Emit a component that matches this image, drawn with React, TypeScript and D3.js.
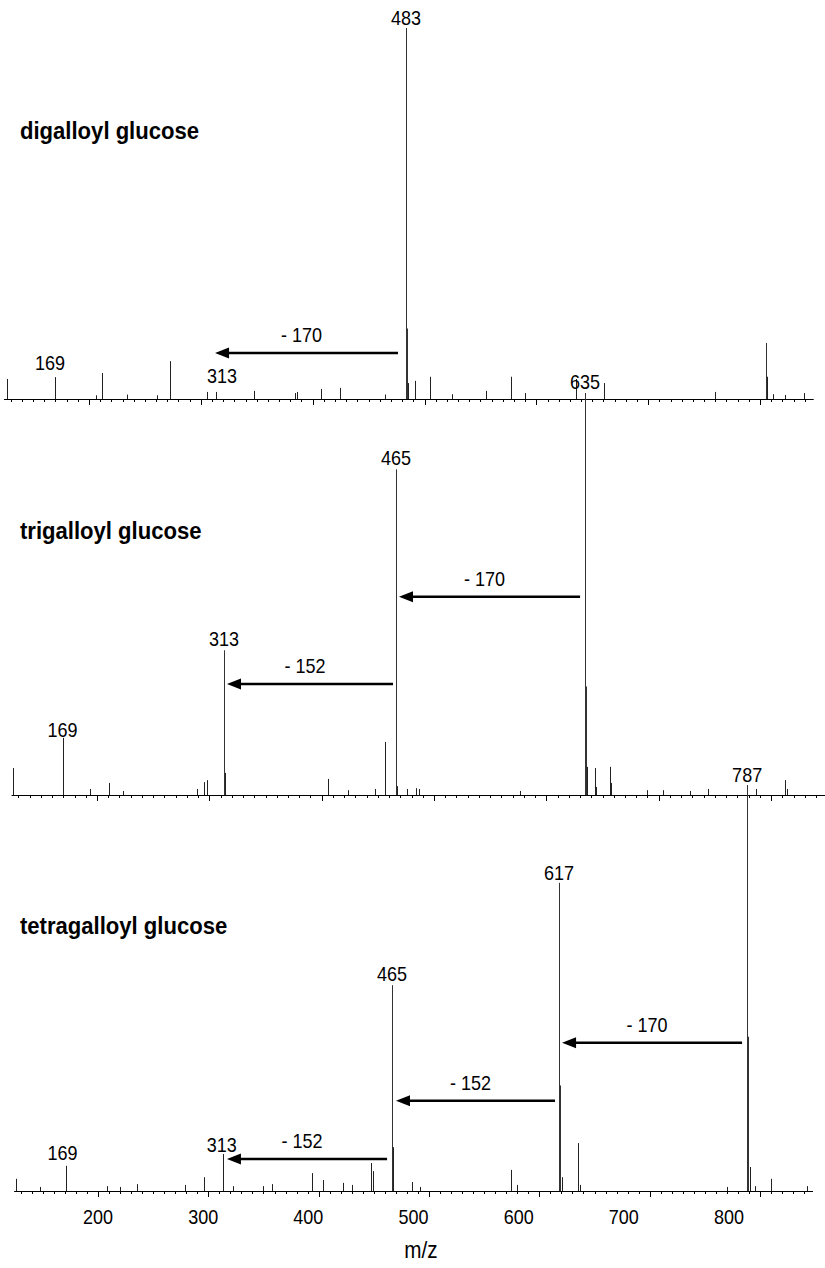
import React from "react";
import * as d3 from "d3";

// ---------- data ----------
const mzDomain = [124, 848];
const majorTicks = [200, 300, 400, 500, 600, 700, 800];
const tickLabels = ["200", "300", "400", "500", "600", "700", "800"];
const xAxisTitle = "m/z";

const diMz = [126.7, 169.6, 206.3, 211.6, 234, 260.8, 272.4, 305.5, 313.6, 347.5, 384.2, 386, 407.5, 424.4, 464.7, 483.5, 484.4, 485.3, 491.5, 504.9, 524.6, 555, 577.4, 589.9, 635.5, 660.5, 759.8, 805.4, 806.3, 811.6, 822.4, 839.4];
const diInt = [5.4, 5.9, 1.0, 7.0, 1.2, 1.0, 10.2, 1.9, 1.9, 2.2, 1.6, 1.9, 2.7, 3.0, 1.2, 100, 19, 4.3, 4.9, 6.0, 1.3, 2.2, 6.0, 1.6, 5.4, 4.3, 1.9, 15.1, 6.0, 1.3, 1.1, 1.6];

const triMz = [125.2, 169.7, 193.8, 210.7, 223.1, 289, 295.3, 297.9, 313.1, 313.9, 406, 423.4, 447.5, 456.4, 466.2, 467.1, 476, 484, 486.6, 576.6, 634.4, 635.3, 636.2, 643.3, 644.2, 656.7, 657.6, 689.6, 703.8, 727.9, 743.9, 786.6, 812.5, 814.2];
const triInt = [6.7, 14.2, 1.5, 3.0, 1.0, 1.5, 3.2, 3.7, 36, 5.5, 4.0, 1.2, 1.5, 13.2, 81, 2.2, 1.5, 1.7, 1.5, 1.0, 100, 27, 7, 6.7, 2, 7, 3, 1.2, 1.2, 1.0, 1.5, 1.5, 3.7, 1.5];

const tetraMz = [125.7, 147.4, 171, 208.2, 219.9, 235.3, 278.9, 296.1, 313.3, 322.4, 349.6, 357.7, 394, 404, 422.1, 430.2, 447.4, 449.3, 466.5, 467.4, 484.6, 491.9, 574.3, 579.8, 617.8, 618.8, 620.6, 635.1, 636.9, 770.1, 788.3, 789.2, 791, 795.5, 810, 842.6];
const tetraInt = [3.0, 1.0, 6.2, 1.2, 1.0, 1.7, 1.5, 3.4, 9.1, 1.2, 1.2, 1.7, 4.4, 2.7, 2, 1.5, 6.9, 4.9, 50.7, 10.8, 2.2, 1.0, 5.2, 1.5, 75.9, 26, 3.4, 11.8, 1.5, 1.0, 100, 38, 5.9, 1.2, 3.0, 1.2];

const diLabels = [
  { text: "483", mz: 483.5, level: 100.8 },
  { text: "169", mz: 165.1, level: 7.8 },
  { text: "313", mz: 318.9, level: 4.3 },
];
const triLabels = [
  { text: "169", mz: 169.3, level: 14.5 },
  { text: "313", mz: 313.1, level: 37 },
  { text: "465", mz: 466.2, level: 82 },
  { text: "635", mz: 634.4, level: 101 },
];
const tetraLabels = [
  { text: "169", mz: 167.8, level: 7.6 },
  { text: "313", mz: 312.1, level: 9.6 },
  { text: "465", mz: 466.5, level: 51.7 },
  { text: "617", mz: 617.8, level: 76.6 },
  { text: "787", mz: 788.3, level: 100.7 },
];

const diArrows = [{ from: 476.3, to: 312.7, level: 12.4, text: "- 170" }];
const triArrows = [
  { from: 630, to: 468.8, level: 49.3, text: "- 170" },
  { from: 463.5, to: 315.7, level: 27.6, text: "- 152" },
];
const tetraArrows = [
  { from: 783.7, to: 620.6, level: 36.5, text: "- 170" },
  { from: 614.2, to: 470.1, level: 22.2, text: "- 152" },
  { from: 462, to: 316.9, level: 7.9, text: "- 152" },
];

const titles = ["digalloyl glucose", "trigalloyl glucose", "tetragalloyl glucose"];

// ---------- layout ----------
const W = 825;
const H = 1268;
const FONT = "'Liberation Sans', Arial, Helvetica, sans-serif";
const SX = 0.9;

const panels = [
  { title: titles[0], mz: diMz, int: diInt, labels: diLabels, arrows: diArrows, range: [4, 813.7], axisY: 399, fullY: 28, titleY: 139 },
  { title: titles[1], mz: triMz, int: triInt, labels: triLabels, arrows: triArrows, range: [11.6, 825], axisY: 795, fullY: 393, titleY: 539 },
  { title: titles[2], mz: tetraMz, int: tetraInt, labels: tetraLabels, arrows: tetraArrows, range: [14.1, 813], axisY: 1191, fullY: 785, titleY: 934 },
];

const labelScale = d3.scaleLinear().domain([200, 800]).range([98, 729]);

function Txt({ x, y, size, bold, anchor, sx, children }: any) {
  return (
    <text
      transform={`translate(${x},${y}) scale(${sx ?? SX},1)`}
      fontFamily={FONT}
      fontSize={size}
      fontWeight={bold ? "bold" : "normal"}
      textAnchor={anchor || "middle"}
      fill="#000"
    >
      {children}
    </text>
  );
}

function Panel({ p, showLabels }: any) {
  const x = d3.scaleLinear().domain(mzDomain).range(p.range);
  const y = d3.scaleLinear().domain([0, 100]).range([p.axisY, p.fullY]);
  const minor = d3.range(130, 848, 10).filter((v) => v % 100 !== 0);
  return (
    <g>
      <Txt x={20} y={p.titleY} size={23} bold anchor="start" sx={0.96}>{p.title}</Txt>
      {/* peaks */}
      {p.mz.map((m: number, i: number) => (
        <line
          key={"pk" + i}
          x1={Math.round(x(m)) + 0.5}
          x2={Math.round(x(m)) + 0.5}
          y1={p.axisY}
          y2={y(p.int[i])}
          stroke={p.int[i] > 15 ? "#333" : "#222"}
          strokeWidth={1}
        />
      ))}
      {/* axis */}
      <line x1={p.range[0]} x2={p.range[1]} y1={p.axisY + 0.5} y2={p.axisY + 0.5} stroke="#000" strokeWidth={1} />
      {minor.map((v) => (
        <line key={"mn" + v} x1={Math.round(x(v)) + 0.5} x2={Math.round(x(v)) + 0.5} y1={p.axisY} y2={p.axisY + 3} stroke="#000" strokeWidth={1} />
      ))}
      {majorTicks.map((v) => (
        <line key={"mj" + v} x1={Math.round(x(v)) + 0.5} x2={Math.round(x(v)) + 0.5} y1={p.axisY} y2={p.axisY + 6} stroke="#000" strokeWidth={1} />
      ))}
      {/* peak labels */}
      {p.labels.map((l: any, i: number) => (
        <Txt key={"lb" + i} x={x(l.mz)} y={y(l.level)} size={20}>{l.text}</Txt>
      ))}
      {/* arrows */}
      {p.arrows.map((a: any, i: number) => {
        const xt = x(a.from);
        const xh = x(a.to);
        const ya = y(a.level);
        return (
          <g key={"ar" + i}>
            <line x1={xt} x2={xh + 10} y1={ya} y2={ya} stroke="#000" strokeWidth={2.5} />
            <path d={`M${xh},${ya} L${xh + 14},${ya - 5.5} L${xh + 14},${ya + 5.5} Z`} fill="#000" />
            <Txt x={(xt + xh) / 2 - 5} y={ya - 11} size={20}>{a.text}</Txt>
          </g>
        );
      })}
      {showLabels &&
        majorTicks.map((v, i) => (
          <Txt key={"tl" + v} x={labelScale(v)} y={p.axisY + 33} size={20}>{tickLabels[i]}</Txt>
        ))}
    </g>
  );
}

export default function App() {
  return (
    <div style={{ position: "absolute", left: 0, top: 0, width: W, height: H, background: "#fff" }}>
      <svg width={W} height={H} viewBox={`0 0 ${W} ${H}`} style={{ display: "block" }}>
        <rect width={W} height={H} fill="#fff" />
        {panels.map((p, i) => (
          <Panel key={i} p={p} showLabels={i === 2} />
        ))}
        <Txt x={421} y={1258} size={23}>{xAxisTitle}</Txt>
      </svg>
    </div>
  );
}
